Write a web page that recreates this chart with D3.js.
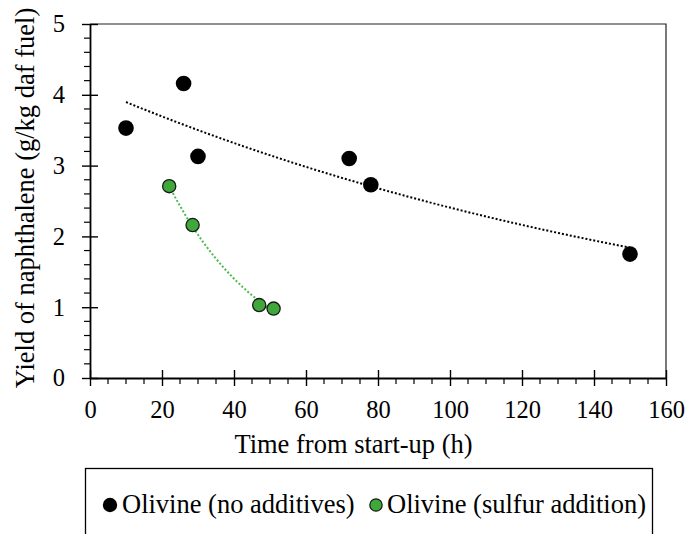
<!DOCTYPE html>
<html>
<head>
<meta charset="utf-8">
<script src="https://cdn.jsdelivr.net/npm/d3@7"></script>
<style>
body { margin: 0; background: #fff; }
svg text { font-family: "Liberation Serif", "Times New Roman", serif !important; fill: #000; }
</style>
</head>
<body>
<div id="chart"></div>
<script>
// data
var noAddTime = [10, 26, 30, 72, 78, 150];
var noAddYield = [3.53, 4.16, 3.13, 3.10, 2.73, 1.75];
var sulfurTime = [22, 28.5, 47, 51];
var sulfurYield = [2.71, 2.16, 1.03, 0.98];
var xTicks = [0, 20, 40, 60, 80, 100, 120, 140, 160];
var yTicks = [0, 1, 2, 3, 4, 5];
var seriesNames = ["Olivine (no additives)", "Olivine (sulfur addition)"];

var width = 687, height = 534;
var margin = {left: 90, right: 21, top: 24, bottom: 156};
var tickFont = 24.5, labelFont = 26.5;

var svg = d3.select("#chart").append("svg")
    .attr("width", width)
    .attr("height", height)
    .style("font-family", "Liberation Serif");

var x = d3.scaleLinear().domain([0, 160]).range([margin.left, width - margin.right]);
var y = d3.scaleLinear().domain([0, 5]).range([height - margin.bottom, margin.top]);

// exponential trendline, least squares on ln(y) like Excel
function expFit(xs, ys) {
    var n = xs.length;
    var ly = ys.map(function(v) { return Math.log(v); });
    var mx = d3.mean(xs), my = d3.mean(ly);
    var sxy = 0, sxx = 0;
    for (var i = 0; i < n; i++) {
        sxy += (xs[i] - mx) * (ly[i] - my);
        sxx += (xs[i] - mx) * (xs[i] - mx);
    }
    var b = sxy / sxx;
    var a = Math.exp(my - b * mx);
    return function(t) { return a * Math.exp(b * t); };
}

function trendPath(xs, ys) {
    var f = expFit(xs, ys);
    var lo = d3.min(xs), hi = d3.max(xs);
    var pts = d3.range(0, 61).map(function(i) {
        var t = lo + (hi - lo) * i / 60;
        return [x(t), y(f(t))];
    });
    return d3.line()(pts);
}

// plot frame (top and right)
svg.append("path")
    .attr("d", "M" + x(0) + "," + y(5) + "H" + x(160) + "V" + y(0))
    .attr("fill", "none")
    .attr("stroke", "#222")
    .attr("stroke-width", 1.2);

// minor ticks
var xMinor = d3.range(0, 161, 5).filter(function(d) { return d % 20 != 0; });
var yMinor = d3.range(0, 5.01, 0.2).map(function(d) { return Math.round(d * 10) / 10; })
    .filter(function(d) { return Math.abs(d - Math.round(d)) > 0.01; });

svg.append("g").selectAll("line").data(xMinor).enter().append("line")
    .attr("x1", function(d) { return x(d); })
    .attr("x2", function(d) { return x(d); })
    .attr("y1", y(0)).attr("y2", y(0) + 6)
    .attr("stroke", "#000").attr("stroke-width", 1.2);

svg.append("g").selectAll("line").data(yMinor).enter().append("line")
    .attr("y1", function(d) { return y(d); })
    .attr("y2", function(d) { return y(d); })
    .attr("x1", x(0) - 6).attr("x2", x(0))
    .attr("stroke", "#000").attr("stroke-width", 1.2);

// axes with crossing major ticks
var xAxis = svg.append("g")
    .attr("class", "x-axis")
    .attr("transform", "translate(0," + y(0) + ")")
    .call(d3.axisBottom(x).tickValues(xTicks).tickFormat(d3.format("d"))
        .tickSize(8).tickSizeOuter(0).tickPadding(15));

xAxis.selectAll(".tick line").attr("y1", -8);

var yAxis = svg.append("g")
    .attr("class", "y-axis")
    .attr("transform", "translate(" + x(0) + ",0)")
    .call(d3.axisLeft(y).tickValues(yTicks).tickFormat(d3.format("d"))
        .tickSize(8).tickSizeOuter(0).tickPadding(17));

yAxis.selectAll(".tick line").attr("x1", 8);

svg.selectAll(".x-axis, .y-axis")
    .attr("font-family", "Liberation Serif")
    .attr("font-size", tickFont);
svg.selectAll(".x-axis path, .y-axis path").attr("stroke-width", 1.8);
svg.selectAll(".tick line").attr("stroke-width", 1.4);

// axis titles
svg.append("text")
    .attr("x", 353.5)
    .attr("y", 453)
    .attr("text-anchor", "middle")
    .attr("font-size", labelFont)
    .text("Time from start-up (h)");

svg.append("text")
    .attr("transform", "translate(34,198) rotate(-90)")
    .attr("text-anchor", "middle")
    .attr("font-size", labelFont)
    .text("Yield of naphthalene (g/kg daf fuel)");

// trendlines
svg.append("path")
    .attr("d", trendPath(noAddTime, noAddYield))
    .attr("fill", "none")
    .attr("stroke", "#000")
    .attr("stroke-width", 2)
    .attr("stroke-dasharray", "2,2");

svg.append("path")
    .attr("d", trendPath(sulfurTime, sulfurYield))
    .attr("fill", "none")
    .attr("stroke", "#4cbb4c")
    .attr("stroke-width", 2)
    .attr("stroke-dasharray", "2,2");

// points
svg.append("g").selectAll("circle").data(d3.range(noAddTime.length)).enter().append("circle")
    .attr("cx", function(i) { return x(noAddTime[i]); })
    .attr("cy", function(i) { return y(noAddYield[i]); })
    .attr("r", 7.8)
    .attr("fill", "#000");

svg.append("g").selectAll("circle").data(d3.range(sulfurTime.length)).enter().append("circle")
    .attr("cx", function(i) { return x(sulfurTime[i]); })
    .attr("cy", function(i) { return y(sulfurYield[i]); })
    .attr("r", 6.6)
    .attr("fill", "#3ea83a")
    .attr("stroke", "#1a1a1a")
    .attr("stroke-width", 1.3);

// legend
svg.append("rect")
    .attr("x", 85.5).attr("y", 468.5)
    .attr("width", 567).attr("height", 80)
    .attr("fill", "none")
    .attr("stroke", "#000")
    .attr("stroke-width", 1.3);

var legend = svg.append("g").selectAll("g").data(seriesNames).enter().append("g")
    .attr("transform", function(d, i) { return "translate(" + (i == 0 ? 110 : 376) + ",505)"; });

legend.append("circle")
    .attr("r", function(d, i) { return i == 0 ? 7.2 : 6.2; })
    .attr("fill", function(d, i) { return i == 0 ? "#000" : "#3ea83a"; })
    .attr("stroke", function(d, i) { return i == 0 ? "none" : "#1a1a1a"; })
    .attr("stroke-width", 1.2);

legend.append("text")
    .attr("x", function(d, i) { return i == 0 ? 12 : 11; })
    .attr("y", 8)
    .attr("font-size", labelFont)
    .text(function(d) { return d; });
</script>
</body>
</html>
